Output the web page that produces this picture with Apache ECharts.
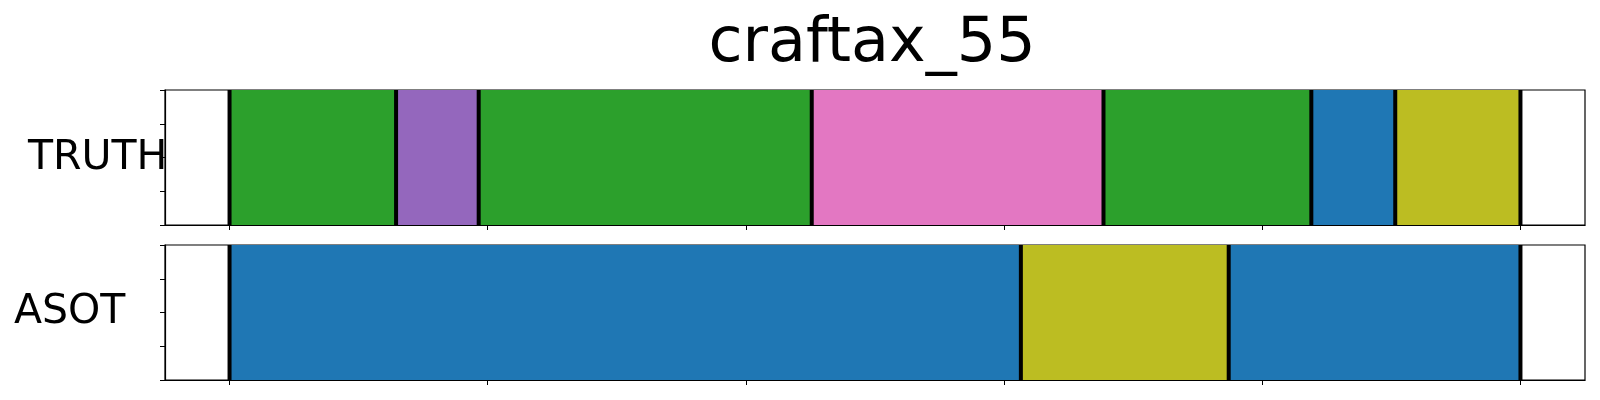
<!DOCTYPE html>
<html>
<head>
<meta charset="utf-8">
<script src="https://cdn.jsdelivr.net/npm/echarts@6/dist/echarts.min.js"></script>
<style>html,body{margin:0;padding:0;background:#fff}#c{width:1600px;height:400px}</style>
</head>
<body>
<div id="c"></div>
<script>
// ---- data ----
const title = 'craftax_55';
const rowLabels = ['TRUTH', 'ASOT'];
const truthStarts = [0, 129, 193, 451, 677, 838, 903];
const truthEnds   = [129, 193, 451, 677, 838, 903, 1000];
const truthColors = ['#2ca02c', '#9467bd', '#2ca02c', '#e377c2', '#2ca02c', '#1f77b4', '#bcbd22'];
const asotStarts = [0, 613, 774];
const asotEnds   = [613, 774, 1000];
const asotColors = ['#1f77b4', '#bcbd22', '#1f77b4'];
const xTicks = [0, 200, 400, 600, 800, 1000];
const yTicks = [0, 0.25, 0.5, 0.75, 1];
const xMin = -50, xMax = 1050;

const font = 'DejaVu Sans';
const chart = echarts.init(document.getElementById('c'), null, {renderer: 'canvas'});

function segData(starts, ends, colors) {
  return starts.map((s, i) => [s, ends[i], colors[i]]);
}
function boundaries(starts, ends) {
  const b = new Set(starts);
  ends.forEach(e => b.add(e));
  return Array.from(b).sort((a, b2) => a - b2).map(v => [v]);
}

const rectRender = function (params, api) {
  const p0 = api.coord([api.value(0), 1]);
  const p1 = api.coord([api.value(1), 0]);
  return {
    type: 'rect',
    shape: {x: p0[0], y: p0[1], width: p1[0] - p0[0], height: p1[1] - p0[1]},
    style: {fill: api.value(2)}
  };
};
const lineRender = function (params, api) {
  const p0 = api.coord([api.value(0), 1]);
  const p1 = api.coord([api.value(0), 0]);
  return {
    type: 'line',
    shape: {x1: p0[0], y1: p0[1], x2: p1[0], y2: p1[1]},
    style: {stroke: '#000', lineWidth: 4}
  };
};

const grids = [
  {left: 165, right: 15, top: 90, height: 135, show: true, borderColor: '#000', borderWidth: 1.2, backgroundColor: 'transparent'},
  {left: 165, right: 15, top: 245, height: 135, show: true, borderColor: '#000', borderWidth: 1.2, backgroundColor: 'transparent'}
];
const xAxes = [0, 1].map(i => ({
  type: 'value', gridIndex: i, min: xMin, max: xMax, position: 'bottom',
  axisLine: {show: true, onZero: false, lineStyle: {color: '#000', width: 1.2}},
  axisTick: {show: true, inside: false, length: 5, customValues: xTicks, lineStyle: {color: '#000', width: 1}},
  axisLabel: {show: false},
  splitLine: {show: false}
}));
const yAxes = [0, 1].map(i => ({
  type: 'value', gridIndex: i, min: 0, max: 1, interval: 0.25, position: 'left',
  axisLine: {show: true, onZero: false, lineStyle: {color: '#000', width: 1.2}},
  axisTick: {show: true, inside: false, length: 5, customValues: yTicks, lineStyle: {color: '#000', width: 1}},
  axisLabel: {show: false},
  splitLine: {show: false}
}));

chart.setOption({
  animation: false,
  backgroundColor: '#fff',
  grid: grids,
  xAxis: xAxes,
  yAxis: yAxes,
  series: [
    {type: 'custom', xAxisIndex: 0, yAxisIndex: 0, renderItem: rectRender, data: segData(truthStarts, truthEnds, truthColors), z: 1, silent: true},
    {type: 'custom', xAxisIndex: 0, yAxisIndex: 0, renderItem: lineRender, data: boundaries(truthStarts, truthEnds), z: 2, silent: true},
    {type: 'custom', xAxisIndex: 1, yAxisIndex: 1, renderItem: rectRender, data: segData(asotStarts, asotEnds, asotColors), z: 1, silent: true},
    {type: 'custom', xAxisIndex: 1, yAxisIndex: 1, renderItem: lineRender, data: boundaries(asotStarts, asotEnds), z: 2, silent: true}
  ],
  graphic: [
    {type: 'text', x: 872, y: 45, style: {text: title, fontFamily: font, fontSize: 62, fill: '#000', align: 'center', verticalAlign: 'middle'}},
    {type: 'text', x: 28, y: 158, style: {text: rowLabels[0], fontFamily: font, fontSize: 41, fill: '#000', align: 'left', verticalAlign: 'middle'}},
    {type: 'text', x: 14, y: 312, style: {text: rowLabels[1], fontFamily: font, fontSize: 41, fill: '#000', align: 'left', verticalAlign: 'middle'}}
  ]
});
</script>
</body>
</html>
